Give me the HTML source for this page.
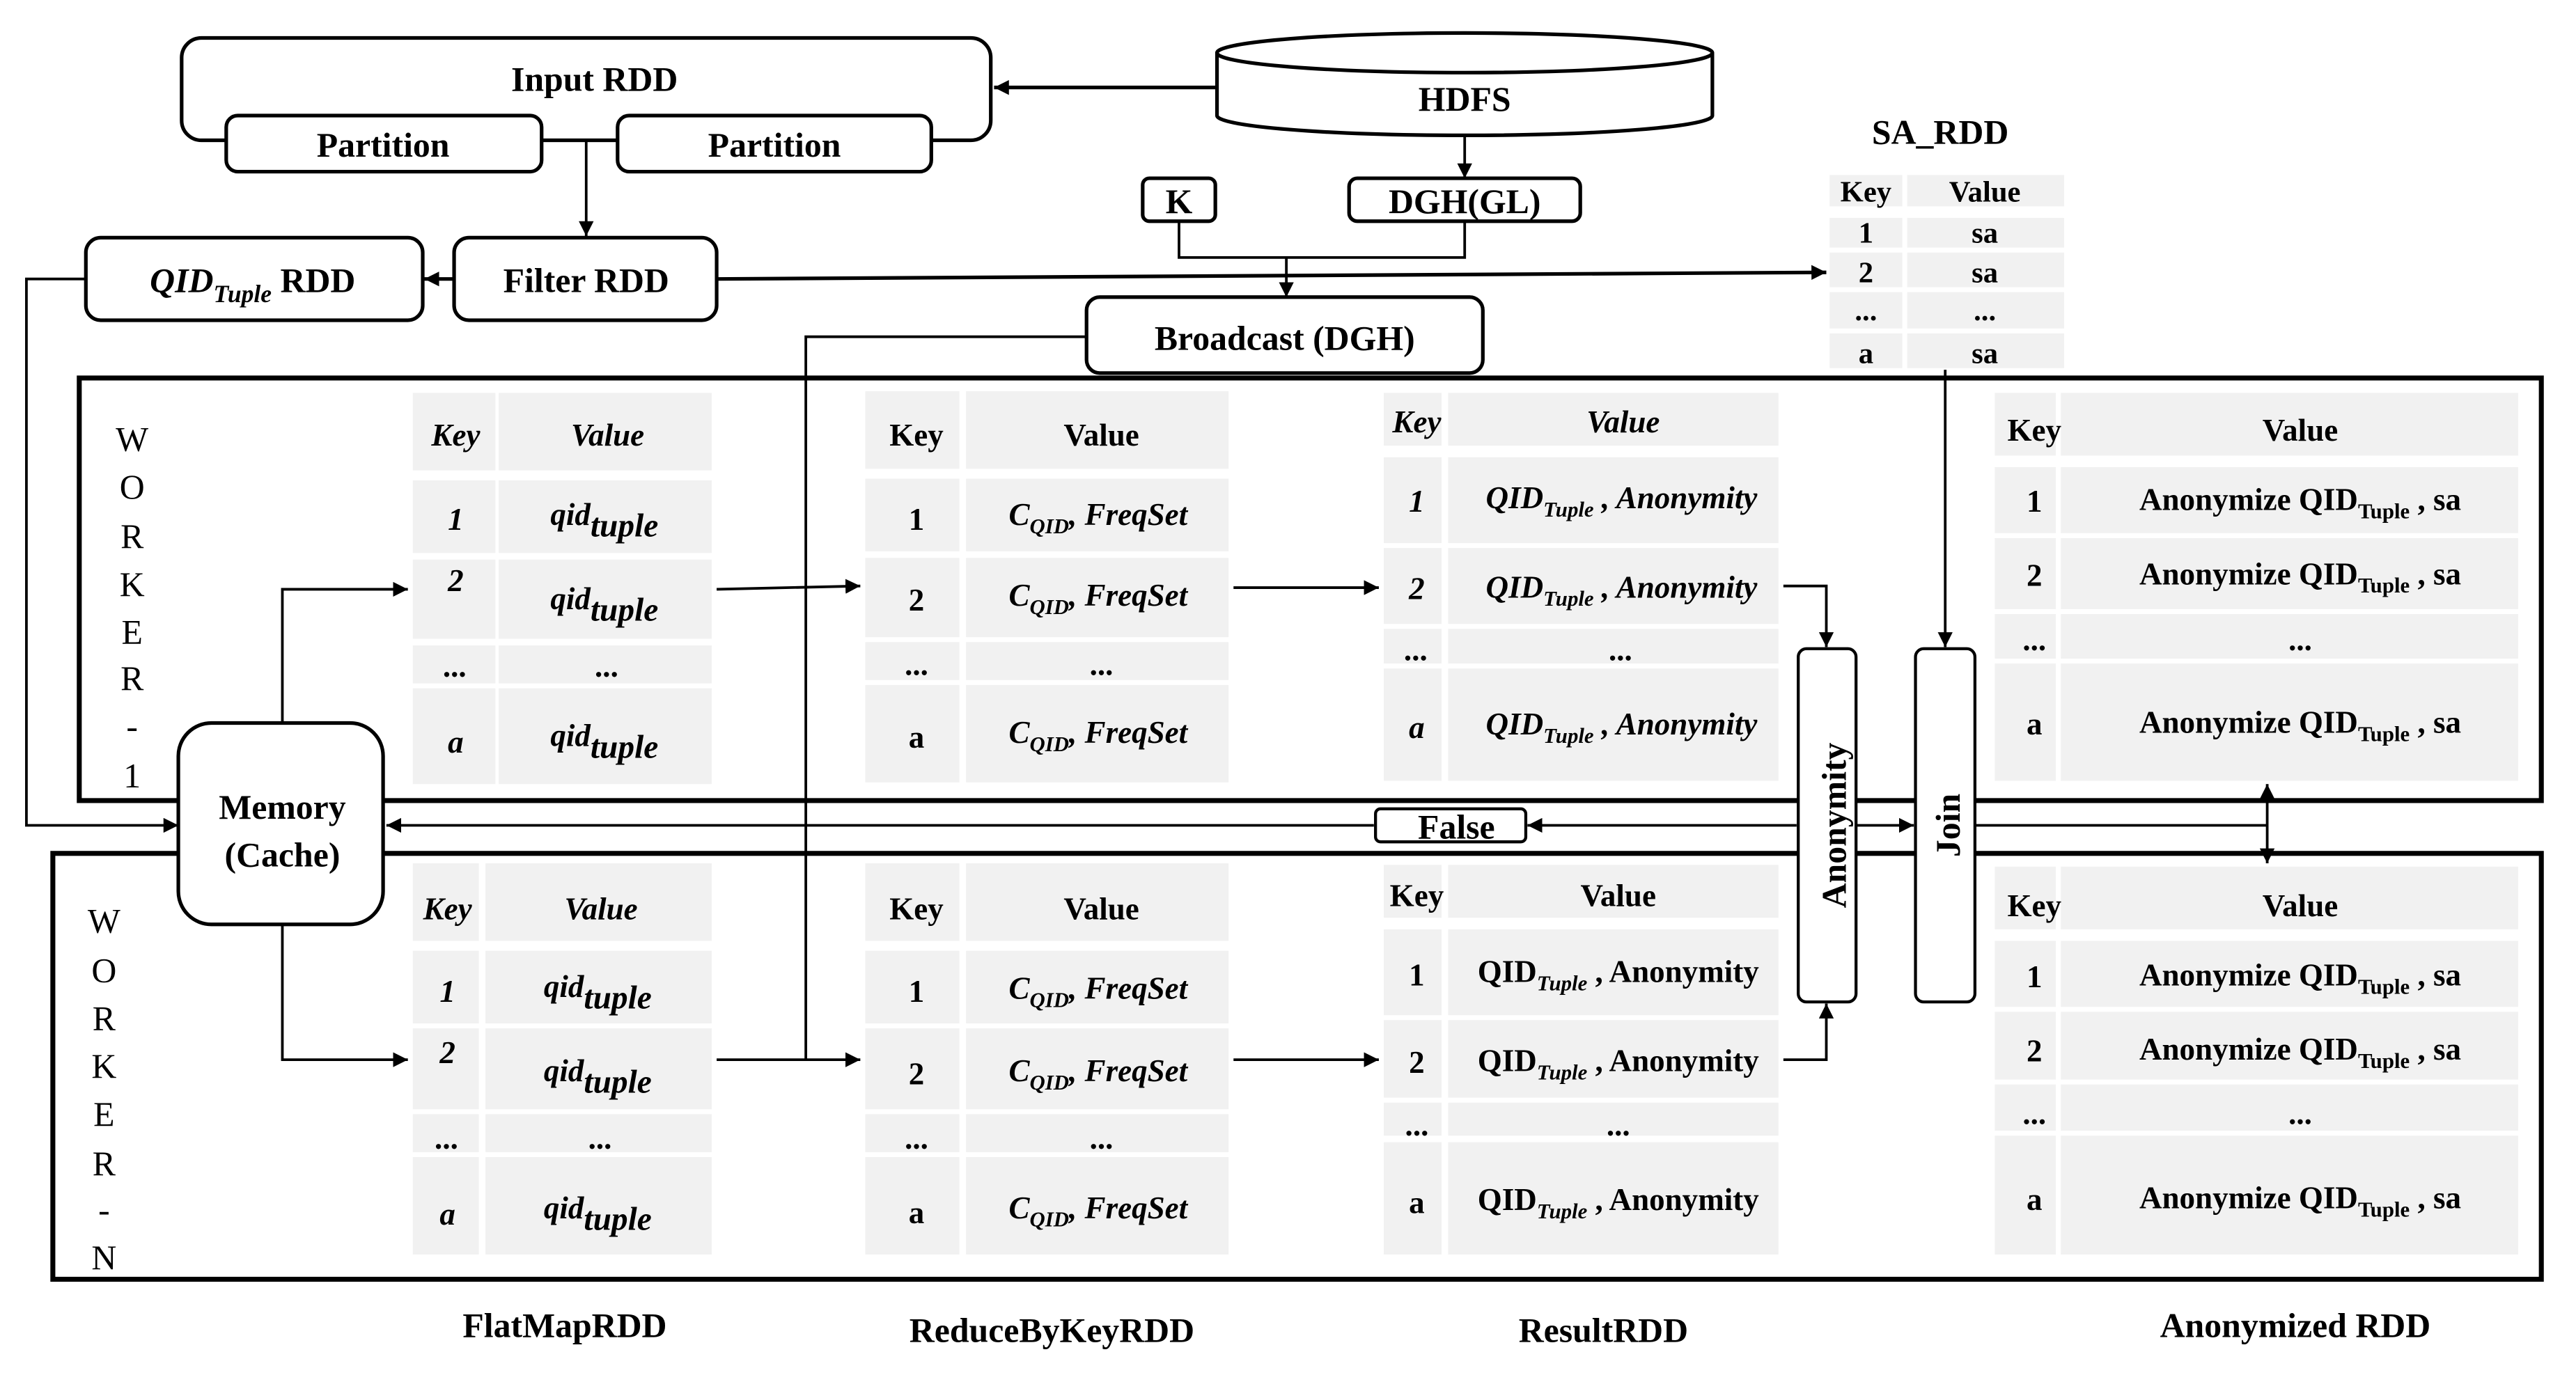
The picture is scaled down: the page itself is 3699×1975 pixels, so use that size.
<!DOCTYPE html>
<html><head><meta charset="utf-8"><style>
html,body{margin:0;padding:0;background:#fff;}
svg{display:block;}
text{font-family:"Liberation Serif",serif;fill:#000;}
</style></head><body>
<svg width="3699" height="1975" viewBox="0 0 1560 833" preserveAspectRatio="none" xmlns="http://www.w3.org/2000/svg">
<defs>
<marker id="ah" viewBox="0 0 10 10" refX="10" refY="5" markerWidth="9" markerHeight="9" markerUnits="userSpaceOnUse" orient="auto"><path d="M0,0L10,5L0,10z" fill="#000"/></marker>
</defs>
<rect width="1560" height="833" fill="#fff"/>

<!-- Worker boxes -->
<rect x="48" y="229" width="1491" height="256" fill="none" stroke="#000" stroke-width="3"/>
<rect x="32" y="517" width="1507" height="258" fill="none" stroke="#000" stroke-width="3"/>

<!-- cells -->
<g fill="#f1f1f1">
<!-- SA_RDD -->
<rect x="1108" y="106" width="44" height="19"/><rect x="1155" y="106" width="95" height="19"/>
<rect x="1108" y="132" width="44" height="18"/><rect x="1155" y="132" width="95" height="18"/>
<rect x="1108" y="153" width="44" height="21"/><rect x="1155" y="153" width="95" height="21"/>
<rect x="1108" y="177" width="44" height="22"/><rect x="1155" y="177" width="95" height="22"/>
<rect x="1108" y="202" width="44" height="21"/><rect x="1155" y="202" width="95" height="21"/>
<!-- FlatMap W1 -->
<rect x="250" y="238" width="50" height="47"/><rect x="302" y="238" width="129" height="47"/>
<rect x="250" y="291" width="50" height="44"/><rect x="302" y="291" width="129" height="44"/>
<rect x="250" y="339" width="50" height="48"/><rect x="302" y="339" width="129" height="48"/>
<rect x="250" y="391" width="50" height="23"/><rect x="302" y="391" width="129" height="23"/>
<rect x="250" y="417" width="50" height="58"/><rect x="302" y="417" width="129" height="58"/>
<!-- FlatMap WN -->
<rect x="250" y="523" width="40" height="47"/><rect x="294" y="523" width="137" height="47"/>
<rect x="250" y="576" width="40" height="44"/><rect x="294" y="576" width="137" height="44"/>
<rect x="250" y="623" width="40" height="49"/><rect x="294" y="623" width="137" height="49"/>
<rect x="250" y="675" width="40" height="23"/><rect x="294" y="675" width="137" height="23"/>
<rect x="250" y="701" width="40" height="59"/><rect x="294" y="701" width="137" height="59"/>
<!-- Reduce W1 -->
<rect x="524" y="237" width="57" height="47"/><rect x="585" y="237" width="159" height="47"/>
<rect x="524" y="290" width="57" height="44"/><rect x="585" y="290" width="159" height="44"/>
<rect x="524" y="338" width="57" height="48"/><rect x="585" y="338" width="159" height="48"/>
<rect x="524" y="389" width="57" height="23"/><rect x="585" y="389" width="159" height="23"/>
<rect x="524" y="415" width="57" height="59"/><rect x="585" y="415" width="159" height="59"/>
<!-- Reduce WN -->
<rect x="524" y="523" width="57" height="47"/><rect x="585" y="523" width="159" height="47"/>
<rect x="524" y="576" width="57" height="44"/><rect x="585" y="576" width="159" height="44"/>
<rect x="524" y="623" width="57" height="49"/><rect x="585" y="623" width="159" height="49"/>
<rect x="524" y="675" width="57" height="23"/><rect x="585" y="675" width="159" height="23"/>
<rect x="524" y="701" width="57" height="59"/><rect x="585" y="701" width="159" height="59"/>
<!-- Result W1 -->
<rect x="838" y="238" width="35" height="32"/><rect x="877" y="238" width="200" height="32"/>
<rect x="838" y="277" width="35" height="52"/><rect x="877" y="277" width="200" height="52"/>
<rect x="838" y="332" width="35" height="46"/><rect x="877" y="332" width="200" height="46"/>
<rect x="838" y="381" width="35" height="21"/><rect x="877" y="381" width="200" height="21"/>
<rect x="838" y="405" width="35" height="68"/><rect x="877" y="405" width="200" height="68"/>
<!-- Result WN -->
<rect x="838" y="524" width="35" height="32"/><rect x="877" y="524" width="200" height="32"/>
<rect x="838" y="563" width="35" height="52"/><rect x="877" y="563" width="200" height="52"/>
<rect x="838" y="618" width="35" height="47"/><rect x="877" y="618" width="200" height="47"/>
<rect x="838" y="668" width="35" height="20"/><rect x="877" y="668" width="200" height="20"/>
<rect x="838" y="692" width="35" height="68"/><rect x="877" y="692" width="200" height="68"/>
<!-- Anonymized W1 -->
<rect x="1208" y="238" width="37" height="38"/><rect x="1248" y="238" width="277" height="38"/>
<rect x="1208" y="283" width="37" height="40"/><rect x="1248" y="283" width="277" height="40"/>
<rect x="1208" y="326" width="37" height="43"/><rect x="1248" y="326" width="277" height="43"/>
<rect x="1208" y="372" width="37" height="27"/><rect x="1248" y="372" width="277" height="27"/>
<rect x="1208" y="402" width="37" height="71"/><rect x="1248" y="402" width="277" height="71"/>
<!-- Anonymized WN -->
<rect x="1208" y="525" width="37" height="38"/><rect x="1248" y="525" width="277" height="38"/>
<rect x="1208" y="570" width="37" height="40"/><rect x="1248" y="570" width="277" height="40"/>
<rect x="1208" y="613" width="37" height="41"/><rect x="1248" y="613" width="277" height="41"/>
<rect x="1208" y="657" width="37" height="28"/><rect x="1248" y="657" width="277" height="28"/>
<rect x="1208" y="688" width="37" height="72"/><rect x="1248" y="688" width="277" height="72"/>
</g>

<!-- connectors -->
<g stroke="#000" stroke-width="1.6" fill="none">
<line x1="737" y1="53" x2="602" y2="53" stroke-width="2.2" marker-end="url(#ah)"/>
<line x1="355" y1="86" x2="355" y2="143" marker-end="url(#ah)"/>
<line x1="887" y1="83" x2="887" y2="108" marker-end="url(#ah)"/>
<polyline points="714,134 714,156 887,156 887,134"/>
<line x1="779" y1="156" x2="779" y2="180" marker-end="url(#ah)"/>
<line x1="275" y1="169" x2="257" y2="169" stroke-width="2.2" marker-end="url(#ah)"/>
<line x1="434" y1="169" x2="1106" y2="165" stroke-width="2.2" marker-end="url(#ah)"/>
<polyline points="52,169 16,169 16,500 108,500" marker-end="url(#ah)"/>
<polyline points="658,204 488,204 488,642"/>
<polyline points="171,438 171,357 247,357" marker-end="url(#ah)"/>
<polyline points="171,560 171,642 247,642" marker-end="url(#ah)"/>
<line x1="434" y1="357" x2="521" y2="355" marker-end="url(#ah)"/>
<line x1="434" y1="642" x2="521" y2="642" marker-end="url(#ah)"/>
<line x1="747" y1="356" x2="835" y2="356" marker-end="url(#ah)"/>
<line x1="747" y1="642" x2="835" y2="642" marker-end="url(#ah)"/>
<polyline points="1080,355 1106,355 1106,392" marker-end="url(#ah)"/>
<polyline points="1080,642 1106,642 1106,608" marker-end="url(#ah)"/>
<line x1="1178" y1="224" x2="1178" y2="392" marker-end="url(#ah)"/>
<line x1="1088" y1="500" x2="925" y2="500" marker-end="url(#ah)"/>
<line x1="832" y1="500" x2="234" y2="500" marker-end="url(#ah)"/>
<line x1="1124" y1="500" x2="1159" y2="500" marker-end="url(#ah)"/>
<line x1="1196" y1="500" x2="1373" y2="500"/>
<line x1="1373" y1="500" x2="1373" y2="475" marker-end="url(#ah)"/>
<line x1="1373" y1="500" x2="1373" y2="523" marker-end="url(#ah)"/>
</g>

<!-- boxes -->
<g fill="#fff" stroke="#000" stroke-width="2.2">
<rect x="110" y="23" width="490" height="62" rx="12"/>
<rect x="137" y="70" width="191" height="34" rx="7"/>
<rect x="374" y="70" width="190" height="34" rx="7"/>
<path d="M737,32 L737,70 A150,12 0 0 0 1037,70 L1037,32"/>
<ellipse cx="887" cy="32" rx="150" ry="12"/>
<rect x="692" y="108" width="44" height="26" rx="4"/>
<rect x="817" y="108" width="140" height="26" rx="5"/>
<rect x="658" y="180" width="240" height="46" rx="8"/>
<rect x="52" y="144" width="204" height="50" rx="9"/>
<rect x="275" y="144" width="159" height="50" rx="9"/>
<rect x="108" y="438" width="124" height="122" rx="20"/>
<rect x="833" y="490" width="91" height="20" rx="3" stroke-width="1.8"/>
<rect x="1089" y="393" width="35" height="214" rx="5" stroke-width="1.8"/>
<rect x="1160" y="393" width="36" height="214" rx="5" stroke-width="1.8"/>
</g>

<!-- labels -->
<g font-size="21" font-weight="bold" text-anchor="middle">
<text x="360" y="55">Input RDD</text>
<text x="232" y="95">Partition</text>
<text x="469" y="95">Partition</text>
<text x="887" y="67">HDFS</text>
<text x="714" y="129">K</text>
<text x="887" y="129">DGH(GL)</text>
<text x="778" y="212">Broadcast (DGH)</text>
<text x="355" y="177">Filter RDD</text>
<text x="153" y="177"><tspan font-style="italic">QID</tspan><tspan font-style="italic" font-size="15" dy="6">Tuple</tspan><tspan dy="-6"> RDD</tspan></text>
<text x="1175" y="87">SA_RDD</text>
<text x="171" y="496">Memory</text>
<text x="171" y="525">(Cache)</text>
<text x="882" y="508">False</text>
<text x="1113" y="500" transform="rotate(-90 1113 500)" dominant-baseline="middle">Anonymity</text>
<text x="1182" y="500" transform="rotate(-90 1182 500)" dominant-baseline="middle">Join</text>
<text x="342" y="810">FlatMapRDD</text>
<text x="637" y="813">ReduceByKeyRDD</text>
<text x="971" y="813">ResultRDD</text>
<text x="1390" y="810">Anonymized RDD</text>
</g>

<!-- WORKER letters -->
<g font-size="21" text-anchor="middle">
<text x="80" y="273">W</text><text x="80" y="302">O</text><text x="80" y="332">R</text><text x="80" y="361">K</text><text x="80" y="390">E</text><text x="80" y="418">R</text><text x="80" y="447">-</text><text x="80" y="477">1</text>
<text x="63" y="565">W</text><text x="63" y="595">O</text><text x="63" y="624">R</text><text x="63" y="653">K</text><text x="63" y="682">E</text><text x="63" y="712">R</text><text x="63" y="740">-</text><text x="63" y="769">N</text>
</g>

<!-- SA table text -->
<g font-size="18" font-weight="bold" text-anchor="middle">
<text x="1130" y="122">Key</text><text x="1202" y="122">Value</text>
<text x="1130" y="147">1</text><text x="1202" y="147">sa</text>
<text x="1130" y="171">2</text><text x="1202" y="171">sa</text>
<text x="1130" y="194">...</text><text x="1202" y="194">...</text>
<text x="1130" y="220">a</text><text x="1202" y="220">sa</text>
</g>

<!-- FlatMap text -->
<g font-size="19" font-weight="bold" font-style="italic" text-anchor="middle">
<text x="276" y="270">Key</text><text x="368" y="270">Value</text>
<text x="276" y="321">1</text><text x="366" y="318">qid<tspan font-size="20" dy="7">tuple</tspan></text>
<text x="276" y="358">2</text><text x="366" y="369">qid<tspan font-size="20" dy="7">tuple</tspan></text>
<text x="276" y="410">...</text><text x="368" y="410">...</text>
<text x="276" y="456">a</text><text x="366" y="452">qid<tspan font-size="20" dy="7">tuple</tspan></text>

<text x="271" y="557">Key</text><text x="364" y="557">Value</text>
<text x="271" y="607">1</text><text x="362" y="604">qid<tspan font-size="20" dy="7">tuple</tspan></text>
<text x="271" y="644">2</text><text x="362" y="655">qid<tspan font-size="20" dy="7">tuple</tspan></text>
<text x="271" y="696">...</text><text x="364" y="696">...</text>
<text x="271" y="742">a</text><text x="362" y="738">qid<tspan font-size="20" dy="7">tuple</tspan></text>
</g>

<!-- Reduce text -->
<g font-size="19" font-weight="bold" text-anchor="middle">
<text x="555" y="270">Key</text><text x="667" y="270">Value</text>
<text x="555" y="321">1</text><text x="665" y="318" font-style="italic">C<tspan font-size="13" dy="5">QID</tspan><tspan dy="-5">, FreqSet</tspan></text>
<text x="555" y="370">2</text><text x="665" y="367" font-style="italic">C<tspan font-size="13" dy="5">QID</tspan><tspan dy="-5">, FreqSet</tspan></text>
<text x="555" y="409">...</text><text x="667" y="409">...</text>
<text x="555" y="453">a</text><text x="665" y="450" font-style="italic">C<tspan font-size="13" dy="5">QID</tspan><tspan dy="-5">, FreqSet</tspan></text>

<text x="555" y="557">Key</text><text x="667" y="557">Value</text>
<text x="555" y="607">1</text><text x="665" y="605" font-style="italic">C<tspan font-size="13" dy="5">QID</tspan><tspan dy="-5">, FreqSet</tspan></text>
<text x="555" y="657">2</text><text x="665" y="655" font-style="italic">C<tspan font-size="13" dy="5">QID</tspan><tspan dy="-5">, FreqSet</tspan></text>
<text x="555" y="696">...</text><text x="667" y="696">...</text>
<text x="555" y="741">a</text><text x="665" y="738" font-style="italic">C<tspan font-size="13" dy="5">QID</tspan><tspan dy="-5">, FreqSet</tspan></text>
</g>

<!-- Result text -->
<g font-size="19" font-weight="bold" text-anchor="middle">
<g font-style="italic">
<text x="858" y="262">Key</text><text x="983" y="262">Value</text>
<text x="858" y="310">1</text><text x="982" y="308">QID<tspan font-size="13" dy="5">Tuple</tspan><tspan dy="-5"> , Anonymity</tspan></text>
<text x="858" y="363">2</text><text x="982" y="362">QID<tspan font-size="13" dy="5">Tuple</tspan><tspan dy="-5"> , Anonymity</tspan></text>
<text x="858" y="400">...</text><text x="982" y="400">...</text>
<text x="858" y="447">a</text><text x="982" y="445">QID<tspan font-size="13" dy="5">Tuple</tspan><tspan dy="-5"> , Anonymity</tspan></text>
</g>
<text x="858" y="549">Key</text><text x="980" y="549">Value</text>
<text x="858" y="597">1</text><text x="980" y="595">QID<tspan font-size="13" dy="5" font-style="italic">Tuple</tspan><tspan dy="-5"> , Anonymity</tspan></text>
<text x="858" y="650">2</text><text x="980" y="649">QID<tspan font-size="13" dy="5" font-style="italic">Tuple</tspan><tspan dy="-5"> , Anonymity</tspan></text>
<text x="858" y="688">...</text><text x="980" y="688">...</text>
<text x="858" y="735">a</text><text x="980" y="733">QID<tspan font-size="13" dy="5" font-style="italic">Tuple</tspan><tspan dy="-5"> , Anonymity</tspan></text>
</g>

<!-- Anonymized text -->
<g font-size="19" font-weight="bold" text-anchor="middle">
<text x="1232" y="267">Key</text><text x="1393" y="267">Value</text>
<text x="1232" y="310">1</text><text x="1393" y="309">Anonymize QID<tspan font-size="13" dy="5">Tuple</tspan><tspan dy="-5"> , sa</tspan></text>
<text x="1232" y="355">2</text><text x="1393" y="354">Anonymize QID<tspan font-size="13" dy="5">Tuple</tspan><tspan dy="-5"> , sa</tspan></text>
<text x="1232" y="394">...</text><text x="1393" y="394">...</text>
<text x="1232" y="445">a</text><text x="1393" y="444">Anonymize QID<tspan font-size="13" dy="5">Tuple</tspan><tspan dy="-5"> , sa</tspan></text>

<text x="1232" y="555">Key</text><text x="1393" y="555">Value</text>
<text x="1232" y="598">1</text><text x="1393" y="597">Anonymize QID<tspan font-size="13" dy="5">Tuple</tspan><tspan dy="-5"> , sa</tspan></text>
<text x="1232" y="643">2</text><text x="1393" y="642">Anonymize QID<tspan font-size="13" dy="5">Tuple</tspan><tspan dy="-5"> , sa</tspan></text>
<text x="1232" y="681">...</text><text x="1393" y="681">...</text>
<text x="1232" y="733">a</text><text x="1393" y="732">Anonymize QID<tspan font-size="13" dy="5">Tuple</tspan><tspan dy="-5"> , sa</tspan></text>
</g>
</svg>
</body></html>
